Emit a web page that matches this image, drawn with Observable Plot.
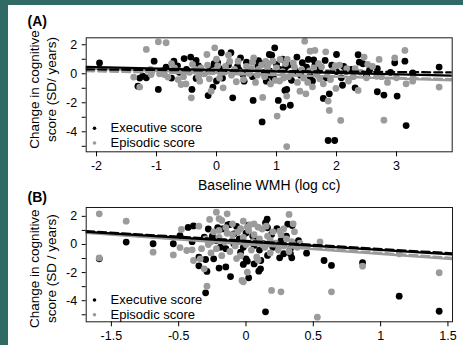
<!DOCTYPE html>
<html><head><meta charset="utf-8">
<script src="https://cdn.jsdelivr.net/npm/d3@7"></script>
<script src="https://cdn.jsdelivr.net/npm/@observablehq/plot@0.6"></script>
<style>
html,body{margin:0;padding:0;}
body{width:463px;height:345px;background:#2f6a65;position:relative;overflow:hidden;font-family:"Liberation Sans",Arial,sans-serif;}
#panel{position:absolute;left:8px;top:5px;width:455px;height:340px;background:#fff;}
#a{position:absolute;left:0;top:0;}
#b{position:absolute;left:0;top:187px;}
svg{display:block;}
</style></head><body><div id="panel"><div id="a"></div><div id="b"></div></div>
<script>
// ---- Panel A data (x = baseline WMH log cc, y = change SD/years)
const execA = [[-1.95,0.75],[-1.04,0.87],[-0.97,-1.08],[-1.31,-0.86],[-1.23,-0.16],[-1.17,-0.28],[-0.84,0.46],[-0.71,0.87],[-0.54,1.05],[-0.43,1.15],[-0.34,0.92],[-0.41,-1.08],[-0.34,-0.32],[-0.62,0.1],[-0.5,0.3],[-0.25,0.2],[-0.14,-1.5],[-0.04,0.69],[0.08,1.45],[-0.06,-0.92],[0.02,0.76],[0.13,0.29],[0.24,1.45],[0.27,-1.66],[0.44,-0.05],[0.46,-0.51],[0.35,0.5],[0.55,0.2],[0.61,-1.84],[0.69,0.53],[0.76,-3.32],[0.83,-0.51],[0.88,1.33],[0.92,1.28],[0.97,1.79],[0.89,0.18],[1.03,-1.84],[1.11,-2.3],[1.14,-1.15],[1.17,-1.08],[1.23,-2.17],[1.34,1.15],[1.43,0.76],[1.5,0.46],[1.53,0.99],[1.56,-0.17],[1.64,0.59],[1.69,0.18],[1.73,0.41],[1.78,-1.7],[1.81,0.92],[1.83,-0.28],[1.86,-4.6],[1.88,-1.38],[1.92,0.59],[1.97,-4.6],[2.0,1.33],[2.08,-0.28],[2.1,-0.79],[2.16,0.18],[2.31,-0.97],[2.36,1.31],[2.38,0.8],[2.44,0.69],[2.68,0.36],[2.68,-1.24],[2.79,-1.47],[2.97,0.76],[3.01,-1.54],[3.14,0.87],[3.16,-3.57],[3.27,0.06],[3.71,0.46],[-0.2,0.05],[0.1,-0.3],[0.3,0.15],[0.6,-0.2],[0.7,0.9],[0.95,-0.3],[1.05,0.3],[1.2,0.6],[1.25,-0.45],[1.4,-0.1],[0.2,0.6],[-0.1,0.4],[0.5,0.8],[1.0,0.65],[2.25,0.3],[2.5,-0.1],[2.9,0.1],[1.6,-0.5],[0.8,0.1],[-0.75,-0.3],[-0.9,0.2],[0.0,-0.5],[2.0,0.15],[1.1,1.0],[0.4,1.1],[-1.28,-0.3],[-0.65,0.55],[0.05,0.35],[0.38,0.25],[0.78,0.7],[1.15,0.45],[1.32,0.2],[1.62,0.95],[2.12,0.5],[2.55,0.25],[-0.3,0.55],[0.9,-0.1]];
const epiA = [[-1.38,-0.23],[-1.28,-0.92],[-1.17,1.68],[-0.97,2.2],[-0.84,2.14],[-1.09,-0.05],[-0.87,-0.05],[-0.81,-0.23],[-0.7,0.41],[-0.64,-0.4],[-0.59,-0.74],[-0.51,-0.7],[-0.42,-1.66],[-0.26,0.41],[-0.21,0.0],[-0.28,-0.51],[-0.16,1.33],[-0.03,1.79],[-0.09,-1.2],[0.11,-0.97],[0.2,1.28],[0.36,0.87],[0.62,1.1],[0.77,-1.63],[1.01,-2.92],[1.17,-5.02],[1.18,0.99],[1.17,-1.54],[1.39,-1.2],[1.49,-1.38],[1.47,2.25],[1.56,1.56],[1.64,1.61],[1.82,1.51],[1.86,-1.88],[1.88,-2.53],[2.07,-3.22],[1.99,-1.01],[2.36,-1.15],[2.46,1.15],[2.71,0.99],[2.79,-3.2],[2.97,1.1],[3.14,1.61],[3.16,-0.69],[3.27,-0.51],[3.71,-0.92],[2.31,0.36],[2.17,0.36],[0.86,0.69],[0.94,0.87],[1.06,0.99],[1.94,0.23],[2.5,-0.28],[2.67,-0.17],[3.0,-0.28],[3.28,-0.28],[1.78,-0.69],[1.67,-0.05],[1.42,0.29],[1.25,0.0],[1.75,0.48],[-0.45,0.1],[-0.35,0.3],[-0.15,0.6],[-0.05,0.2],[0.05,-0.3],[0.15,0.5],[0.25,-0.1],[0.3,0.3],[0.45,-0.4],[0.5,0.5],[0.55,0.0],[0.65,-0.6],[0.7,0.3],[0.75,0.6],[0.8,-0.2],[0.85,0.4],[0.9,-0.7],[0.95,0.1],[1.0,0.4],[1.05,-0.5],[1.1,0.15],[1.15,0.7],[1.2,-0.2],[1.3,0.45],[1.35,-0.6],[1.45,-0.3],[1.55,0.2],[1.6,-0.9],[1.7,0.7],[1.85,0.1],[1.9,-0.4],[2.05,0.6],[2.2,-0.5],[2.4,0.1],[2.6,0.5],[2.85,-0.6],[-0.6,0.2],[-0.75,0.7],[-0.95,0.0],[0.0,1.0],[0.4,0.1],[0.6,0.8],[-1.1,0.3],[-0.3,-0.2],[0.1,0.1],[-0.55,-0.2],[-0.12,-0.35],[0.22,0.85],[0.33,-0.55],[0.58,0.35],[0.68,-0.1],[0.82,0.85],[0.98,-0.45],[1.12,-0.3],[1.28,0.75],[1.38,0.05],[1.52,-0.6],[1.62,0.4],[1.72,-0.35],[1.98,0.55],[2.28,-0.2],[2.52,0.65],[2.75,-0.2],[-0.4,0.65],[0.02,0.55]];
// ---- Panel B data
const execB = [[-1.09,-1.02],[-0.89,0.17],[-0.69,0.05],[-0.54,0.05],[-0.49,0.62],[-0.43,1.21],[-0.39,1.32],[-0.35,-0.9],[-0.3,-1.07],[-0.35,-1.52],[-0.29,-1.92],[-0.3,-3.44],[-0.28,1.1],[-0.21,1.2],[-0.135,1.4],[-0.2,-1.68],[-0.15,-1.6],[-0.115,-2.28],[-0.17,1.12],[-0.12,1.42],[-0.07,1.28],[-0.09,0.76],[0.0,0.81],[0.157,1.8],[0.145,1.54],[0.02,1.37],[0.16,1.19],[0.19,0.71],[0.23,1.12],[0.31,1.45],[0.343,1.35],[0.39,0.28],[0.58,-1.14],[0.635,-1.49],[-0.02,-1.42],[0.01,-1.19],[0.108,-1.73],[0.095,-1.9],[0.02,-2.37],[0.145,-4.79],[0.25,-0.95],[0.34,-0.95],[0.33,-0.66],[0.28,-0.66],[0.11,-1.14],[0.16,-0.78],[0.06,-1.38],[0.0,-1.02],[-0.04,-0.55],[-0.19,-0.19],[-0.24,-1.02],[0.45,-0.62],[0.06,-0.07],[0.13,0.05],[-0.09,0.05],[-0.31,0.52],[-0.22,0.28],[0.26,0.28],[0.33,-0.31],[0.866,-1.3],[1.138,-3.68],[1.435,-4.75],[-0.25,0.6],[-0.05,0.4],[0.05,0.6],[0.1,-0.4],[0.2,-0.2],[-0.15,-0.3],[0.3,0.6],[-0.4,0.2],[0.08,0.3],[-0.02,-0.2]];
const epiB = [[-1.09,-0.96],[-1.09,2.18],[-0.89,1.66],[-0.69,-0.55],[-0.54,-0.74],[-0.49,-0.22],[-0.44,-0.43],[-0.4,-0.38],[-0.48,1.07],[-0.39,-1.14],[-0.34,-1.02],[-0.31,-1.73],[-0.29,-2.97],[-0.35,1.3],[-0.27,1.78],[-0.22,2.3],[-0.2,1.83],[-0.18,1.71],[-0.14,2.18],[-0.1,1.47],[-0.04,1.12],[0.01,1.23],[0.06,1.47],[0.09,1.23],[-0.02,1.66],[0.32,2.14],[0.35,1.47],[-0.03,-2.56],[0.01,-1.97],[0.19,-3.27],[0.26,-3.37],[0.53,-5.17],[0.55,0.19],[0.635,-3.37],[0.866,-1.54],[1.138,-0.66],[1.435,-2.01],[-0.02,-2.65],[-0.3,0.4],[-0.28,0.0],[-0.26,-0.6],[-0.24,0.9],[-0.22,-0.3],[-0.2,0.5],[-0.18,-0.8],[-0.16,0.2],[-0.14,0.8],[-0.12,-0.5],[-0.1,0.3],[-0.08,-0.1],[-0.06,0.9],[-0.04,-0.8],[-0.02,0.5],[0.0,0.0],[0.02,1.0],[0.04,-0.4],[0.06,0.7],[0.08,-0.9],[0.1,0.4],[0.12,1.1],[0.14,-0.2],[0.16,0.6],[0.18,-0.6],[0.2,0.9],[0.22,0.1],[0.24,-0.4],[0.26,0.7],[0.28,-0.1],[0.3,0.4],[0.32,-0.5],[0.34,0.2],[0.36,0.9],[0.38,-0.2],[0.4,0.1],[0.05,0.2],[-0.15,1.2],[0.15,1.3],[-0.33,-0.3],[0.25,0.95],[-0.07,-1.0],[0.09,-1.1],[0.12,0.0],[-0.2,1.0],[0.03,1.4],[0.18,0.3],[-0.1,0.7],[0.28,1.1],[-0.26,0.2]];
// ---- Fitted lines (intercept, slope)
const fitsA = [
  {series:"Episodic", dashed:false, intercept:0.072, slope:-0.133},
  {series:"Episodic", dashed:true, intercept:-0.012, slope:-0.0885},
  {series:"Executive", dashed:false, intercept:0.256, slope:-0.0984},
  {series:"Executive", dashed:true, intercept:0.225, slope:-0.0344}
];
const fitsB = [
  {series:"Episodic", dashed:false, intercept:0.004, slope:-0.687},
  {series:"Episodic", dashed:true, intercept:0.065, slope:-0.661},
  {series:"Executive", dashed:false, intercept:0.202, slope:-0.588},
  {series:"Executive", dashed:true, intercept:0.26, slope:-0.581}
];
// ---- Axis ticks & labels
const xTicksA = [-2, -1, 0, 1, 2, 3];
const xTickLabelsA = ["-2", "-1", "0", "1", "2", "3"];
const xTicksB = [-1, -0.5, 0, 0.5, 1, 1.5];
const xTickLabelsB = ["-1.5", "-0.5", "0", "0.5", "1", "1.5"];
const yTicks = [-5, -4, -3, -2, -1, 0, 1, 2];
const yTickLabels = ["", "-4", "", "-2", "", "0", "", "2"];
const legendLabels = ["Executive score", "Episodic score"];
const seriesColors = {Executive: "#000000", Episodic: "#9b9b9b"};

const FONT = "Liberation Sans, Arial, sans-serif";

function panel(o) {
  const lineMarks = o.fits.map(f => Plot.line(
    o.xDomain.map(x => ({x, y: f.intercept + f.slope * x})),
    {x: "x", y: "y", stroke: seriesColors[f.series], strokeWidth: 2.2,
     strokeDasharray: f.dashed ? "8,4" : null, clip: true}));
  return Plot.plot({
    width: 455, height: o.height,
    marginLeft: 77.7, marginRight: o.marginRight, marginTop: o.marginTop, marginBottom: o.marginBottom,
    x: {domain: o.xDomain}, y: {domain: o.yDomain},
    style: {fontFamily: FONT, background: "transparent", overflow: "visible", color: "#000"},
    marks: [
      Plot.dot(o.exec, {x: d => d[0], y: d => d[1], r: 3.4, fill: seriesColors.Executive, stroke: null, clip: true}),
      Plot.dot(o.epi, {x: d => d[0], y: d => d[1], r: 3.4, fill: seriesColors.Episodic, stroke: null, clip: true}),
      ...lineMarks,
      Plot.frame({stroke: "#1a1a1a", strokeWidth: 1}),
      Plot.axisX({ticks: o.xTicks, tickFormat: d => o.xTickLabels[o.xTicks.indexOf(d)], tickSize: 5, tickPadding: 4, fontSize: 12.5, label: null}),
      Plot.axisY({ticks: yTicks, tickFormat: d => yTickLabels[yTicks.indexOf(d)], tickSize: 4, tickPadding: 5, fontSize: 12.5, label: null}),
      // legend
      Plot.dot([legendLabels[0]], {frameAnchor: "bottom-left", dx: 8.3, dy: -o.legendDy[0], r: 1.8, fill: seriesColors.Executive, stroke: null}),
      Plot.dot([legendLabels[1]], {frameAnchor: "bottom-left", dx: 8.3, dy: -o.legendDy[1], r: 1.8, fill: seriesColors.Episodic, stroke: null}),
      Plot.text([legendLabels[0]], {text: d => d, frameAnchor: "bottom-left", dx: 24.3, dy: -o.legendDy[0], textAnchor: "start", lineAnchor: "middle", fontSize: 13}),
      Plot.text([legendLabels[1]], {text: d => d, frameAnchor: "bottom-left", dx: 24.3, dy: -o.legendDy[1], textAnchor: "start", lineAnchor: "middle", fontSize: 13}),
      // panel tag
      Plot.text([o.tag], {text: d => d, frameAnchor: "top-left", dx: -58.7, dy: o.tagDy, textAnchor: "start", lineAnchor: "middle", fontSize: 14, fontWeight: "bold"}),
      // y title
      Plot.text([o.yTitle], {text: d => d, frameAnchor: "left", dx: -44.2, dy: o.yTitleDy, rotate: -90, textAnchor: "middle", lineAnchor: "middle", lineHeight: 1.26, fontSize: 13.5}),
      ...(o.xTitle ? [Plot.text([o.xTitle], {text: d => d, frameAnchor: "bottom", dy: o.xTitleDy, lineAnchor: "middle", fontSize: 14})] : [])
    ]
  });
}

document.getElementById("a").append(panel({
  exec: execA, epi: epiA, fits: fitsA,
  xDomain: [-2.172, 3.928], yDomain: [-5.38, 2.48],
  xTicks: xTicksA, xTickLabels: xTickLabelsA,
  height: 187, marginTop: 32.3, marginBottom: 40.7, marginRight: 11.3,
  legendDy: [23.6, 8.8], tag: "(A)", tagDy: -16.3,
  yTitle: "Change in cognitive\nscore (SD/ years)", yTitleDy: -5.3,
  xTitle: "Baseline WMH (log cc)", xTitleDy: 33.7
}));
document.getElementById("b").append(panel({
  exec: execB, epi: epiB, fits: fitsB,
  xDomain: [-1.187, 1.534], yDomain: [-5.50, 2.63],
  xTicks: xTicksB, xTickLabels: xTickLabelsB,
  height: 153, marginTop: 15, marginBottom: 23.7, marginRight: 11,
  legendDy: [21.8, 7.1], tag: "(B)", tagDy: -10,
  yTitle: "Change in cognitive\nscore (SD / years)", yTitleDy: 4,
  xTitle: null
}));
</script>
</body></html>
